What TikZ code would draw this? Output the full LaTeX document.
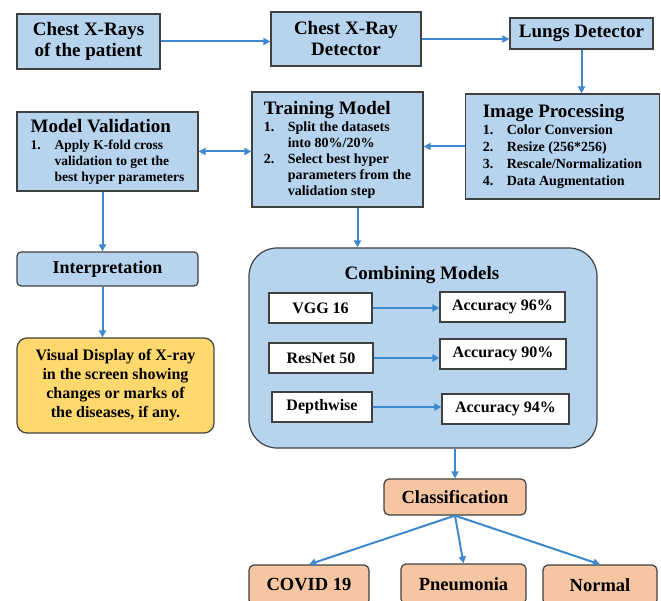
\documentclass[tikz,border=0pt]{standalone}
\usepackage{fontspec}
\setmainfont{Liberation Serif}
\usetikzlibrary{arrows.meta}

\definecolor{boxblue}{RGB}{182,212,238}
\definecolor{edgegray}{RGB}{64,64,64}
\definecolor{arrowblue}{RGB}{62,136,206}
\definecolor{noteyellow}{RGB}{255,217,110}
\definecolor{outorange}{RGB}{246,198,162}

\newcommand\hdsize{\bfseries\fontsize{19}{21}\selectfont}
\newcommand\lstsize{\bfseries\fontsize{14}{16}\selectfont}
\newcommand\numitem[2]{\makebox[24pt][l]{#1}#2}
\newcommand\contline[1]{\hspace*{24pt}#1}

\begin{document}
\begin{tikzpicture}[x=1pt,y=-1pt,
	blk/.style={draw=edgegray,fill=boxblue,line width=1.2pt,inner sep=0pt,align=center,font=\hdsize},
	rblk/.style={blk,rounded corners=5pt},
	wbox/.style={draw=edgegray,fill=white,line width=1.1pt,inner sep=0pt,minimum height=30pt,font=\bfseries\fontsize{16}{18}\selectfont},
	obox/.style={rblk,fill=outorange,minimum height=40pt,font=\bfseries\fontsize{18.5}{20}\selectfont},
	link/.style={draw=arrowblue,line width=2pt,>={Triangle[length=7pt,width=7pt]},->}]
	\useasboundingbox (0,0) rectangle (661,601);
	% top row
		\node[blk,minimum width=143pt,minimum height=55pt] (xrays) at (88.5,41.5) {Chest X-Rays\\of the patient};
		\node[blk,minimum width=150pt,minimum height=54pt] (detector) at (346,39) {Chest X-Ray\\Detector};
		\node[blk,minimum width=143pt,minimum height=31pt] (lungs) at (581.5,33.5) {Lungs Detector};
	% second row
		\node[blk,align=left,font=\lstsize,minimum width=194pt,minimum height=105pt] (improc) at (562.5,146.5)
			{{\hdsize Image Processing}\\[1pt]
			\numitem{1.}{Color Conversion}\\[1pt]
			\numitem{2.}{Resize (256*256)}\\[1pt]
			\numitem{3.}{Rescale/Normalization}\\[1pt]
			\numitem{4.}{Data Augmentation}};
		\node[blk,align=left,font=\lstsize,minimum width=171pt,minimum height=115pt] (training) at (337.5,149.5)
			{{\hdsize Training Model}\\[1pt]
			\numitem{1.}{Split the datasets}\\
			\contline{into 80\%/20\%}\\
			\numitem{2.}{Select best hyper}\\
			\contline{parameters from the}\\
			\contline{validation step}};
		\node[blk,align=left,font=\bfseries\fontsize{13.5}{16}\selectfont,minimum width=181pt,minimum height=79pt] (validation) at (107.5,151.5)
			{{\hdsize Model Validation}\\[1pt]
			\numitem{1.}{Apply K-fold cross}\\
			\contline{validation to get the}\\
			\contline{best hyper parameters}};
	% left column
		\node[rblk,rounded corners=4pt,font=\bfseries\fontsize{18}{20}\selectfont,minimum width=181pt,minimum height=34pt] (interp) at (107.5,269) {Interpretation};
		\node[rblk,fill=noteyellow,rounded corners=10pt,font=\bfseries\fontsize{16}{19}\selectfont,minimum width=197pt,minimum height=95pt] (visual) at (115.5,385.5)
			{Visual Display of X-ray\\in the screen showing\\changes or marks of\\the diseases, if any.};
	% combining models
		\node[blk,rounded corners=28pt,minimum width=348pt,minimum height=200pt] (combine) at (423,348) {};
		\node[font=\hdsize] (combtitle) at (422,275) {Combining Models};
		\node[wbox,minimum width=103pt] (vgg) at (320.5,308) {VGG 16};
		\node[wbox,minimum width=125pt] (acc96) at (502.5,307) {Accuracy 96\%};
		\node[wbox,minimum width=104pt] (resnet) at (321,358) {ResNet 50};
		\node[wbox,minimum width=126pt] (acc90) at (503,354) {Accuracy 90\%};
		\node[wbox,minimum width=100pt] (depth) at (322,407) {Depthwise};
		\node[wbox,minimum width=127pt] (acc94) at (505.5,409) {Accuracy 94\%};
	% classification
		\node[obox,minimum height=36pt,minimum width=142pt] (classif) at (455,497) {Classification};
		\node[obox,minimum width=120pt] (covid) at (309,585) {COVID 19};
		\node[obox,minimum width=125pt] (pneu) at (463.5,584) {Pneumonia};
		\node[obox,minimum width=114pt] (normal) at (600,585) {Normal};
	% arrows
		\coordinate (vdrop) at ([xshift=-5pt]validation.south);
		\coordinate (idrop) at ([xshift=-5pt]interp.south);
		\coordinate (tdrop) at ([xshift=20pt]training.south);
		\draw[link] (xrays) -- (xrays -| detector.west);
		\draw[link] (detector) -- (detector -| lungs.west);
		\draw[link] (lungs) -- (lungs |- improc.north);
		\draw[link] (improc) -- (improc -| training.east);
		\draw[link,<->] (validation) -- (validation -| training.west);
		\draw[link] (vdrop) -- (vdrop |- interp.north);
		\draw[link] (idrop) -- (idrop |- visual.north);
		\draw[link] (tdrop) -- (tdrop |- combine.north);
		\draw[link] (vgg) -- (vgg -| acc96.west);
		\draw[link] (resnet) -- (resnet -| acc90.west);
		\draw[link] (depth) -- (depth -| acc94.west);
		\draw[link] (classif.north |- combine.south) -- (classif);
		\draw[link] (classif.south) -- (covid.north);
		\draw[link] (classif.south) -- (pneu.north);
		\draw[link] (classif.south) -- (normal.north);
\end{tikzpicture}
\end{document}
